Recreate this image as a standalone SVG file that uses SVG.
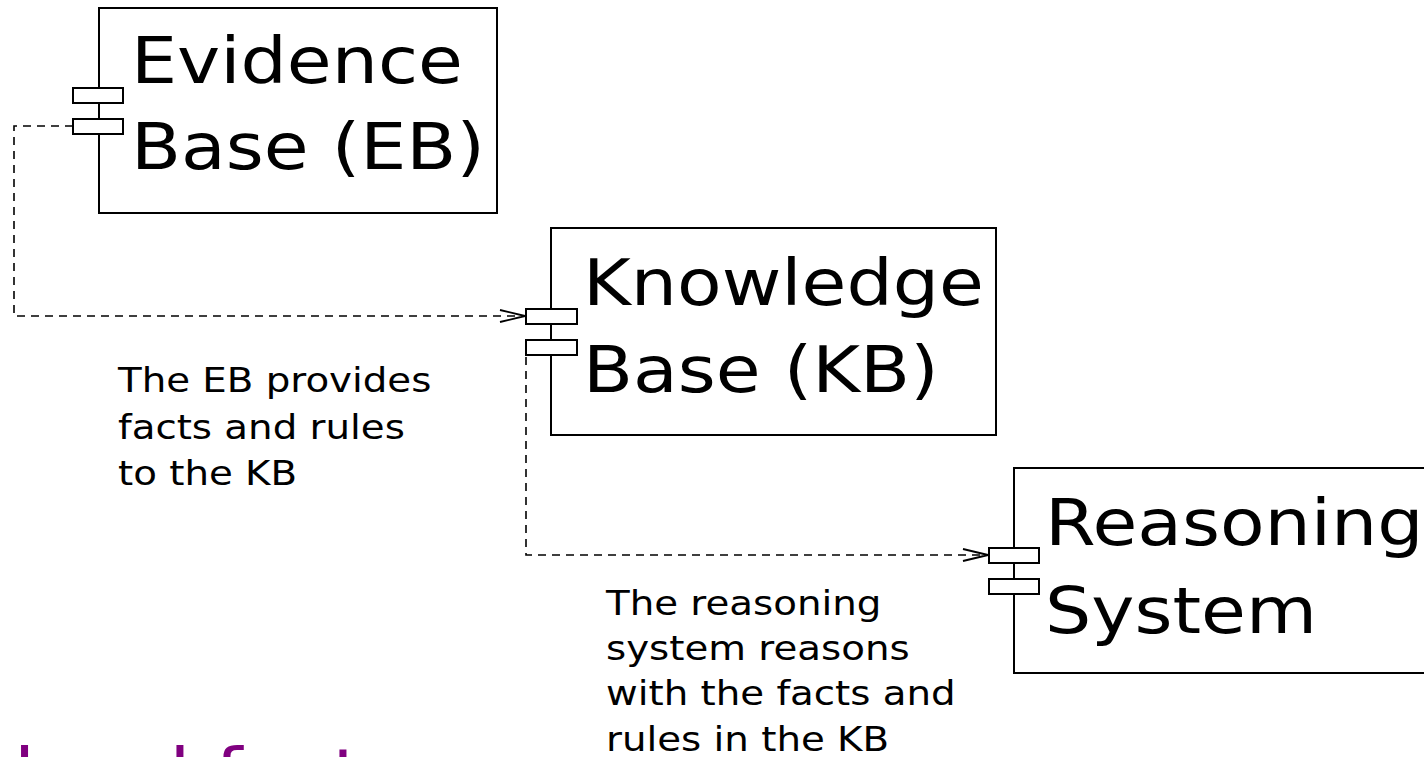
<svg xmlns="http://www.w3.org/2000/svg" width="1424" height="757" viewBox="0 0 1424 757">
<defs>
<style>
.box{fill:#fff;stroke:#000;stroke-width:2}
.port{fill:#fff;stroke:#000;stroke-width:2}
.big{font-family:"DejaVu Sans",sans-serif;font-size:64px;fill:#000}
.small{font-family:"DejaVu Sans",sans-serif;font-size:34px;fill:#000}
.dep{fill:none;stroke:#000;stroke-width:1.6;stroke-dasharray:8,6}
.title{font-family:"DejaVu Sans",sans-serif;font-size:68px;fill:#800080}
</style>
<marker id="open" markerUnits="userSpaceOnUse" markerWidth="30" markerHeight="16" refX="26" refY="7" orient="auto" viewBox="0 0 30 16">
<path d="M1,1 L26,7 L1,13" fill="none" stroke="#000" stroke-width="1.8"/>
</marker>
</defs>
<rect width="1424" height="757" fill="#fff"/>
<g id="connectors">
<path class="dep" d="M73,126 H14 V316 H525" marker-end="url(#open)"/>
<path class="dep" d="M526,357 V555 H988" marker-end="url(#open)"/>
</g>
<g id="eb">
<rect class="box" x="99" y="8" width="398" height="205"/>
<rect class="port" x="73" y="88" width="50" height="15"/>
<rect class="port" x="73" y="119" width="50" height="15"/>
<text class="big" transform="matrix(1.14 0 0 1 131 83)">Evidence</text>
<text class="big" transform="matrix(1.14 0 0 1 131 169)">Base (EB)</text>
</g>
<g id="kb">
<rect class="box" x="551" y="228" width="445" height="207"/>
<rect class="port" x="526" y="309" width="51" height="15"/>
<rect class="port" x="526" y="340" width="51" height="15"/>
<text class="big" transform="matrix(1.14 0 0 1 583 305)">Knowledge</text>
<text class="big" transform="matrix(1.14 0 0 1 583 392)">Base (KB)</text>
</g>
<g id="rs">
<rect class="box" x="1014" y="468" width="450" height="205"/>
<rect class="port" x="989" y="548" width="50" height="15"/>
<rect class="port" x="989" y="579" width="50" height="15"/>
<text class="big" transform="matrix(1.14 0 0 1 1045 545)">Reasoning</text>
<text class="big" transform="matrix(1.14 0 0 1 1045 633)">System</text>
</g>
<g id="note-eb">
<text class="small" transform="matrix(1.14 0 0 1 118 392)">The EB provides</text>
<text class="small" transform="matrix(1.14 0 0 1 118 439)">facts and rules</text>
<text class="small" transform="matrix(1.14 0 0 1 118 485)">to the KB</text>
</g>
<g id="note-rs">
<text class="small" transform="matrix(1.14 0 0 1 606 615)">The reasoning</text>
<text class="small" transform="matrix(1.14 0 0 1 606 660)">system reasons</text>
<text class="small" transform="matrix(1.14 0 0 1 606 705)">with the facts and</text>
<text class="small" transform="matrix(1.14 0 0 1 606 751)">rules in the KB</text>
</g>
<text class="title" transform="matrix(1.14 0 0 1 14 797)">hard facts</text>
</svg>
